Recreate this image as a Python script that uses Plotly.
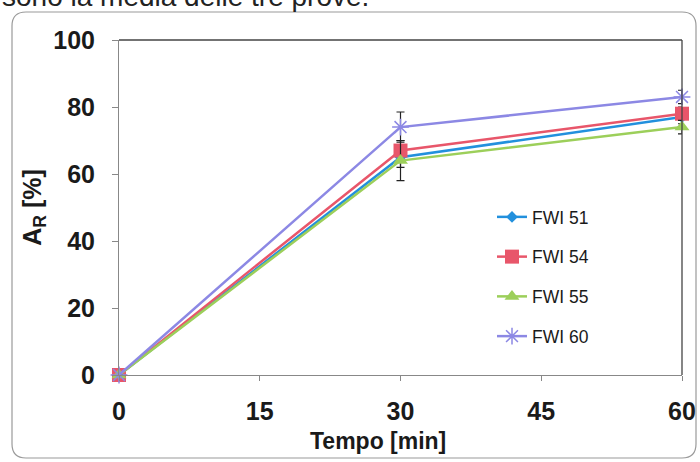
import plotly.graph_objects as go

tempo = [0, 30, 60]
series_names = ["FWI 51", "FWI 54", "FWI 55", "FWI 60"]
fwi51 = [0, 65, 77]
fwi54 = [0, 67, 78]
fwi55 = [0, 64, 74]
fwi60 = [0, 74, 83]
err51 = [0, 3, 2]
err54 = [0, 3, 2]
err55 = [0, 6, 2]
err60 = [0, 4.5, 2]
x_ticks = [0, 15, 30, 45, 60]
y_ticks = [0, 20, 40, 60, 80, 100]

colors = ["#2290dd", "#e8566a", "#9ccf5a", "#8c88e4"]
symbols = ["diamond", "square", "triangle-up", "asterisk-open"]
sizes = [9, 14, 13, 14]
values = [fwi51, fwi54, fwi55, fwi60]
errors = [err51, err54, err55, err60]

fig = go.Figure()
for i, name in enumerate(series_names):
    marker = dict(symbol=symbols[i], size=sizes[i], color=colors[i])
    if symbols[i].startswith("asterisk"):
        marker["line"] = dict(color=colors[i], width=1.5)
    fig.add_trace(go.Scatter(
        x=tempo, y=values[i], name=name, mode="lines+markers",
        line=dict(color=colors[i], width=2.5),
        marker=marker,
        error_y=dict(type="data", array=errors[i], visible=True,
                     color="#222222", thickness=1.2, width=4),
        legendgroup=name,
        cliponaxis=False,
    ))

L, R, T, B = 119, 18, 40, 87
W, H = 700, 462
pw, ph = W - L - R, H - T - B

def px(x):
    return (x - L) / pw

def py(y):
    return (H - B - y) / ph

# rounded outer border
x0, x1, y0, y1 = px(12), px(696), py(458), py(12)
rx = 14 / pw
ry = 14 / ph
path = (f"M {x0+rx},{y1} L {x1-rx},{y1} Q {x1},{y1} {x1},{y1-ry} "
        f"L {x1},{y0+ry} Q {x1},{y0} {x1-rx},{y0} L {x0+rx},{y0} "
        f"Q {x0},{y0} {x0},{y0+ry} L {x0},{y1-ry} Q {x0},{y1} {x0+rx},{y1} Z")

fig.update_layout(
    width=W, height=H,
    margin=dict(l=L, r=R, t=T, b=B, autoexpand=False),
    paper_bgcolor="white", plot_bgcolor="white",
    font=dict(family="Liberation Sans, Arial, sans-serif", color="#1a1a1a"),
    showlegend=True,
    legend=dict(x=px(492), y=py(199), xanchor="left", yanchor="top",
                font=dict(size=17.5), tracegroupgap=14, traceorder="grouped",
                bgcolor="rgba(0,0,0,0)", itemwidth=30),
    shapes=[dict(type="path", path=path, xref="paper", yref="paper",
                 line=dict(color="#9a9a9a", width=1.2), layer="below")],
    annotations=[
        dict(text="sono la media delle tre prove.", xref="paper", yref="paper",
             x=px(0), y=py(14), xanchor="left", yanchor="bottom",
             showarrow=False, font=dict(size=28, color="#222222")),
        dict(text="<b>Tempo [min]</b>", xref="paper", yref="paper",
             x=px(378), y=py(441), xanchor="center", yanchor="middle",
             showarrow=False, font=dict(size=23, color="#1a1a1a")),
    ],
)
fig.update_xaxes(
    range=[0, 60], tickvals=x_ticks, ticktext=[str(v) for v in x_ticks],
    showgrid=False, zeroline=False, showline=True, linecolor="#888888", linewidth=1,
    mirror=False, ticks="outside", ticklen=5, tickcolor="#888888",
    tickfont=dict(size=25, family="Liberation Sans, Arial", weight="bold"),
    ticklabelstandoff=9, automargin=False,
)
fig.update_yaxes(
    range=[0, 100], tickvals=y_ticks, ticktext=[str(v) for v in y_ticks],
    showgrid=False, zeroline=False, showline=True, linecolor="#888888", linewidth=1,
    ticks="outside", ticklen=6, tickcolor="#888888",
    tickfont=dict(size=25, family="Liberation Sans, Arial", weight="bold"),
    ticklabelstandoff=12, automargin=False,
    title=dict(text="<b>A<sub>R</sub> [%]</b>", font=dict(size=25), standoff=4),
)
# dark frame on top and right
fig.add_shape(type="line", xref="paper", yref="paper", x0=0, x1=1, y0=1, y1=1,
              line=dict(color="#444444", width=1.3))
fig.add_shape(type="line", xref="paper", yref="paper", x0=1, x1=1, y0=0, y1=1,
              line=dict(color="#444444", width=1.3))
fig.write_html("out.html", config={"displayModeBar": False},
               post_script="document.body.style.margin='0';document.body.style.overflow='hidden';")
